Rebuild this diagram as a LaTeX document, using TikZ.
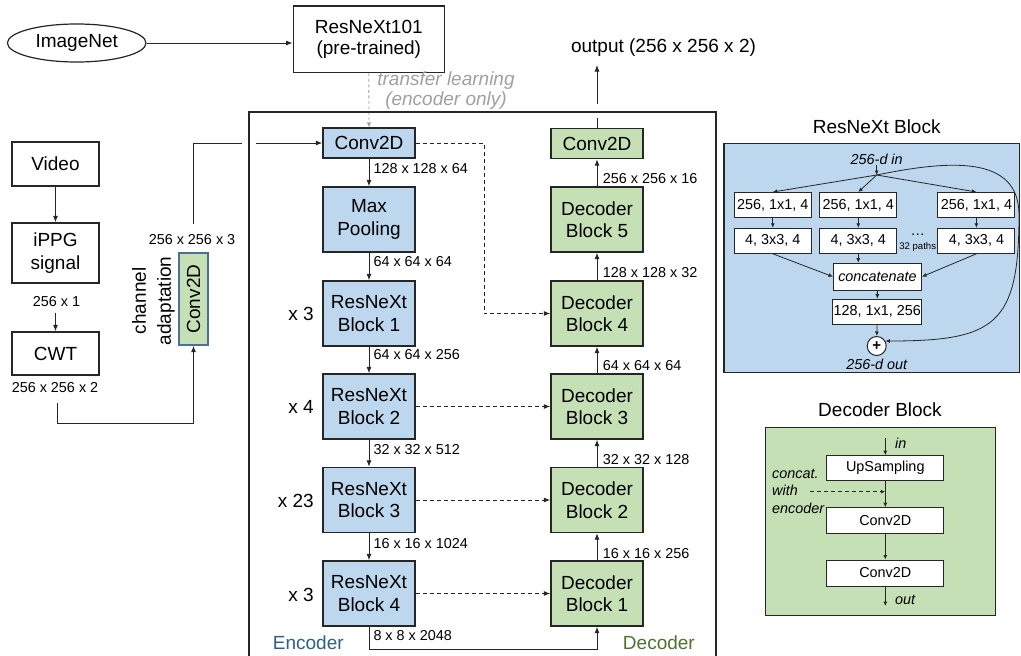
\documentclass[tikz,border=0pt]{standalone}
\usepackage{fontspec}
\setmainfont{Liberation Sans}
\usetikzlibrary{shapes.geometric,arrows.meta}

\definecolor{encfill}{HTML}{BDD7EE}
\definecolor{decfill}{HTML}{C5E0B4}
\definecolor{enctext}{HTML}{2E5E8C}
\definecolor{dectext}{HTML}{4E7230}
\definecolor{tlgray}{HTML}{A0A0A0}
\definecolor{edge}{HTML}{262626}
\definecolor{adaptedge}{HTML}{4A6F9A}

\newcommand\fsBig{\fontsize{19}{22.5}\selectfont}
\newcommand\fsDim{\fontsize{14.4}{17}\selectfont}
\newcommand\fsPanel{\fontsize{14.4}{17.5}\selectfont}
\newcommand\fsPanelIt{\fontsize{14.4}{17.5}\selectfont\itshape}

\tikzset{
  box/.style={draw=edge, line width=1.3pt, inner sep=0pt, align=center, font=\fsBig},
  whitebox/.style={box, fill=white},
  encbox/.style={box, fill=encfill, minimum width=92pt, minimum height=65pt},
  decbox/.style={box, fill=decfill, minimum width=92pt, minimum height=65pt},
  arr/.style={-{Latex[length=6.5pt,width=5pt]}, line width=1pt, draw=edge},
  skiparr/.style={arr, dash pattern=on 4pt off 3pt},
  dimlab/.style={font=\fsDim, anchor=west, inner sep=0pt},
  replab/.style={font=\fsBig, anchor=east, inner sep=0pt},
  pbox/.style={draw=edge, fill=white, line width=1pt, inner sep=0pt, font=\fsPanel,
               minimum width=77pt, minimum height=25pt},
  parr/.style={-{Latex[length=4.5pt,width=4pt]}, line width=0.8pt, draw=edge},
  plain/.style={inner sep=0pt}
}

\begin{document}
\begin{tikzpicture}[x=1pt,y=-1pt]
\useasboundingbox (0,0) rectangle (1021,656);
\fill[white] (0,0) rectangle (1021,656);

% ---------- pre-training source ----------
\node[ellipse, draw=edge, line width=1.2pt, minimum width=138.6pt, minimum height=38pt,
      inner sep=0pt, font=\fsBig] (imagenet) at (76.7,43) {ImageNet};
\node[whitebox, minimum width=151pt, minimum height=66.7pt,
      font={\fontsize{19}{20.5}\selectfont}] (resnext) at (368.8,39.3) {ResNeXt101\\(pre-trained)};
\draw[arr] (imagenet.east) -- (imagenet.east -| resnext.west);
\node[plain, text=tlgray, align=center, font={\fontsize{19}{20}\selectfont\itshape}]
     (tl) at (446,91) {transfer learning\\(encoder only)};

% ---------- input pipeline ----------
\node[whitebox, minimum width=87pt, minimum height=44pt] (video) at (55.5,164) {Video};
\node[whitebox, minimum width=87pt, minimum height=60pt] (ippg) at (55.5,253) {iPPG\\signal};
\node[whitebox, minimum width=87pt, minimum height=43pt] (cwt) at (55.5,353.5) {CWT};
\node[dimlab, anchor=center] (l1) at (56.5,302) {256 x 1};
\node[dimlab, anchor=center] (l2) at (55,388) {256 x 256 x 2};
\coordinate (ic) at (55.5,312.5);
\draw[arr] (video) -- (ippg);
\draw[arr] (ic) -- (cwt.north);

\node[draw=adaptedge, fill=decfill, line width=1.2pt, minimum width=29pt, minimum height=92pt,
      inner sep=0pt, font=\fsBig] (adapt) at (193.5,299) {\rotatebox{90}{Conv2D}};
\node[dimlab, anchor=center] (l3) at (192,240) {256 x 256 x 3};
\node[plain, rotate=90, align=center, font={\fontsize{19}{25}\selectfont}]
     (chan) at (153.5,300.8) {channel\\adaptation};
\coordinate (c1) at (57,403);
\coordinate (c2) at (193.5,423);
\draw[arr] (c1) -- (c1 |- c2) -| (adapt.south);

% ---------- encoder column ----------
\node[encbox, minimum height=30pt] (conv1) at (369,143) {Conv2D};
\node[encbox] (pool) at (369,219.5) {Max\\Pooling};
\node[encbox] (rb1) at (369,313.5) {ResNeXt\\Block 1};
\node[encbox] (rb2) at (369,406.5) {ResNeXt\\Block 2};
\node[encbox] (rb3) at (369,500) {ResNeXt\\Block 3};
\node[encbox] (rb4) at (369,593.5) {ResNeXt\\Block 4};

\draw[arr] (conv1) -- (pool);
\draw[arr] (pool) -- (rb1);
\draw[arr] (rb1) -- (rb2);
\draw[arr] (rb2) -- (rb3);
\draw[arr] (rb3) -- (rb4);

\node[dimlab] at (373.3,168.3) {128 x 128 x 64};
\node[dimlab] at (373.3,261.3) {64 x 64 x 64};
\node[dimlab] at (373.3,355) {64 x 64 x 256};
\node[dimlab] at (373.3,449.3) {32 x 32 x 512};
\node[dimlab] at (373.3,543.3) {16 x 16 x 1024};
\node[dimlab] at (373.3,636) {8 x 8 x 2048};

\node[replab] at (314,313.5) {x 3};
\node[replab] at (314,407) {x 4};
\node[replab] at (314,501) {x 23};
\node[replab] at (314,594.5) {x 3};

% ---------- decoder column ----------
\node[decbox, minimum height=30pt] (convout) at (597,143.5) {Conv2D};
\node[decbox] (db5) at (597,219.5) {Decoder\\Block 5};
\node[decbox] (db4) at (597,313.5) {Decoder\\Block 4};
\node[decbox] (db3) at (597,406.5) {Decoder\\Block 3};
\node[decbox] (db2) at (597,500) {Decoder\\Block 2};
\node[decbox] (db1) at (597,593.5) {Decoder\\Block 1};

\draw[arr] (db1) -- (db2);
\draw[arr] (db2) -- (db3);
\draw[arr] (db3) -- (db4);
\draw[arr] (db4) -- (db5);
\draw[arr] (db5) -- (convout);

\node[dimlab] at (602.7,179) {256 x 256 x 16};
\node[dimlab] at (602.7,273) {128 x 128 x 32};
\node[dimlab] at (602.7,366) {64 x 64 x 64};
\node[dimlab] at (602.7,460) {32 x 32 x 128};
\node[dimlab] at (602.7,553.3) {16 x 16 x 256};

% bottleneck link
\coordinate (bot) at (369,649);
\draw[arr] (rb4.south) -- (bot) -| (db1.south);

% skip connections
\coordinate (sk) at (484,143);
\draw[skiparr] (conv1.east) -- (sk) |- (db4.west);
\draw[skiparr] (rb2) -- (db3);
\draw[skiparr] (rb3) -- (db2);
\draw[skiparr] (rb4) -- (db1);

% transfer learning link
\draw[-{Latex[length=5pt,width=4.5pt]}, draw=tlgray, line width=0.8pt, dash pattern=on 3pt off 2.5pt]
     (resnext.south) -- (conv1.north);

% input into encoder and output of decoder
\coordinate (a1) at (193.5,224);
\coordinate (a2) at (193.5,143);
\draw[arr] (a1) -- (a2) -- (conv1.west);
\coordinate (outtip) at (597,65);
\draw[arr] (convout.north) -- (outtip);
\node[font=\fsBig, anchor=base, inner sep=0pt] (outtxt) at (663.5,52) {output (256 x 256 x 2)};

% openings where the links pass the frame
\fill[white] (242,139) rectangle (256,147);
\fill[white] (592,104) rectangle (602,118);

% encoder/decoder frame
\draw[draw=edge, line width=1.7pt] (249,662) -- (249,112) -- (716,112) -- (716,662);
\node[plain, font=\fsBig, text=enctext, anchor=west] at (272.7,642.7) {Encoder};
\node[plain, font=\fsBig, text=dectext, anchor=east] at (695,642.7) {Decoder};

% ---------- ResNeXt block detail ----------
\node[plain, font=\fsBig] (rntitle) at (876.7,126.7) {ResNeXt Block};
\draw[draw=edge, fill=encfill, line width=1.1pt] (724,143.3) rectangle (1019.5,372.7);
\node[plain, font=\fsPanelIt] (din) at (876.7,159.3) {256-d in};
\coordinate (fork) at (876.7,175);
\draw[parr] (din.south) -- (fork);

\node[pbox] (pa1) at (772.8,205) {256, 1x1, 4};
\node[pbox] (pa2) at (858.3,205) {256, 1x1, 4};
\node[pbox] (pa3) at (976.4,205) {256, 1x1, 4};
\node[pbox] (pb1) at (772.8,240.8) {4, 3x3, 4};
\node[pbox] (pb2) at (858.3,240.8) {4, 3x3, 4};
\node[pbox] (pb3) at (976.4,240.8) {4, 3x3, 4};
\node[plain, font=\fsPanel, anchor=base] (dots) at (917.7,235) {…};
\node[plain, font={\fontsize{9.6}{11}\selectfont}] (paths) at (917.7,246.7) {32 paths};

\draw[parr] (fork) -- (pa1.north);
\draw[parr] (fork) -- (pa2.north);
\draw[parr] (fork) -- (pa3.north);
\draw[parr] (pa1) -- (pb1);
\draw[parr] (pa2) -- (pb2);
\draw[parr] (pa3) -- (pb3);

\node[pbox, minimum width=88pt, minimum height=27pt, font=\fsPanelIt] (cat) at (877.5,276.7) {concatenate};
\draw[parr] (pb1.south) -- (cat.west);
\draw[parr] (pb2.south) -- (pb2.south |- cat.north);
\draw[parr] (pb3.south) -- (cat.east);

\node[pbox, minimum width=89pt] (c128) at (877.2,311.7) {128, 1x1, 256};
\draw[parr] (cat) -- (c128);
\node[circle, draw=edge, fill=white, line width=1pt, minimum size=19pt, inner sep=0pt,
      font={\fontsize{15}{15}\selectfont\bfseries}] (plus) at (876.7,346) {+};
\draw[parr] (c128) -- (plus);
\node[plain, font=\fsPanelIt] (dout) at (876.7,364) {256-d out};
\draw[parr] (fork) .. controls (950,160) and (1019,155) .. (1019,215)
                   .. controls (1019,325) and (995,341) .. (plus.30);

% ---------- decoder block detail ----------
\node[plain, font=\fsBig] (dbtitle) at (880,410) {Decoder Block};
\draw[draw=edge, fill=decfill, line width=1.1pt] (765.7,427.7) rectangle (995.3,615.7);
\node[pbox, minimum width=117.3pt] (up) at (885.3,468.2) {UpSampling};
\node[pbox, minimum width=117.3pt, minimum height=25.6pt] (dc1) at (885.3,520.5) {Conv2D};
\node[pbox, minimum width=117.3pt, minimum height=26pt] (dc2) at (885.3,573) {Conv2D};
\coordinate (inp) at (885.3,438);
\coordinate (outp) at (885.3,606);
\draw[parr] (inp) -- (up.north);
\draw[parr] (up) -- (dc1);
\draw[parr] (dc1) -- (dc2);
\draw[parr] (dc2.south) -- (outp);
\node[plain, font=\fsPanelIt, anchor=west] (inlab) at (895,443) {in};
\node[plain, font=\fsPanelIt, anchor=west] (outlab) at (895,600) {out};
\coordinate (cw) at (810,491.7);
\draw[parr, dash pattern=on 4pt off 3pt] (cw) -- (cw -| up.south);
\node[plain, font=\fsPanelIt, anchor=west, align=left] (catlab) at (772,491) {concat.\\with\\encoder};
\end{tikzpicture}
\end{document}
